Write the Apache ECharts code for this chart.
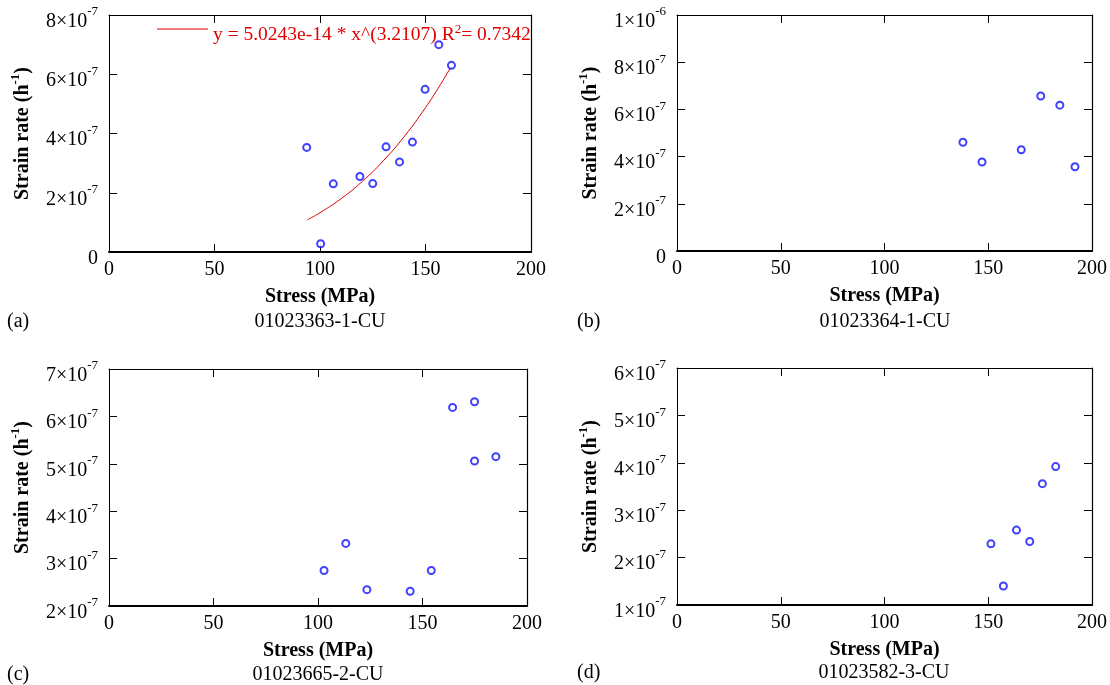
<!DOCTYPE html>
<html><head><meta charset="utf-8">
<script src="https://cdn.jsdelivr.net/npm/echarts@6/dist/echarts.min.js"></script>
<style>html,body{margin:0;padding:0;background:#fff}#c{width:1110px;height:685px}</style>
</head><body><div id="c"></div>
<script>
// Strain rates are stored in units of 1e-7 h^-1
const xTickLabels = ['0', '50', '100', '150', '200'];
const yTicksA = ['0', '2×10^-7', '4×10^-7', '6×10^-7', '8×10^-7'];
const yTicksB = ['0', '2×10^-7', '4×10^-7', '6×10^-7', '8×10^-7', '1×10^-6'];
const yTicksC = ['2×10^-7', '3×10^-7', '4×10^-7', '5×10^-7', '6×10^-7', '7×10^-7'];
const yTicksD = ['1×10^-7', '2×10^-7', '3×10^-7', '4×10^-7', '5×10^-7', '6×10^-7'];

const stressA = [93.7, 100.3, 106.3, 118.9, 125.0, 131.3, 137.7, 143.8, 149.8, 156.3, 162.3];
const rateA   = [3.53, 0.28, 2.30, 2.55, 2.31, 3.55, 3.04, 3.71, 5.49, 7.00, 6.30];
const fitStressA = [94, 100, 110, 120, 130, 140, 150, 156, 162];
const fitRateA   = [1.087, 1.326, 1.800, 2.381, 3.078, 3.905, 4.874, 5.527, 6.239];
const stressB = [137.8, 147.0, 165.9, 175.3, 184.5, 191.8];
const rateB   = [4.61, 3.77, 4.29, 6.57, 6.18, 3.57];
const stressC = [102.9, 113.3, 123.4, 144.1, 154.2, 164.4, 174.9, 174.9, 185.1];
const rateC   = [2.75, 3.32, 2.345, 2.31, 2.75, 6.19, 6.31, 5.06, 5.15];
const stressD = [151.3, 157.3, 163.6, 170.0, 176.1, 182.5];
const rateD   = [2.29, 1.40, 2.58, 2.34, 3.56, 3.92];

const sampleIds = ['01023363-1-CU', '01023364-1-CU', '01023665-2-CU', '01023582-3-CU'];
const panelTags = ['(a)', '(b)', '(c)', '(d)'];
const fitLabel = ['y = 5.0243e-14 * x^(3.2107) R', '2', '= 0.7342'];
const xAxisName = 'Stress (MPa)';
const yAxisName = ['Strain rate (h', '-1', ')'];

const FONT = "'Liberation Serif', 'Times New Roman', serif";
const panels = [
  {grid: {left: 109, top: 15, width: 422, height: 237}, ymin: 0, ymax: 8, yint: 2, ticks: yTicksA, xs: stressA, ys: rateA, cx: 320, tagX: 7, yTitle: 322},
  {grid: {left: 677, top: 15, width: 416, height: 236}, ymin: 0, ymax: 10, yint: 2, ticks: yTicksB, xs: stressB, ys: rateB, cx: 885, tagX: 577, yTitle: 322},
  {grid: {left: 109, top: 369, width: 418, height: 237}, ymin: 2, ymax: 7, yint: 1, ticks: yTicksC, xs: stressC, ys: rateC, cx: 318, tagX: 7, yTitle: 675},
  {grid: {left: 677, top: 368, width: 415, height: 237}, ymin: 1, ymax: 6, yint: 1, ticks: yTicksD, xs: stressD, ys: rateD, cx: 884, tagX: 577, yTitle: 673}
];

function tickRich(lbl) {
  const p = lbl.split('^');
  return p.length > 1 ? '{b|' + p[0] + '}{s|' + p[1] + '}' : '{b|' + p[0] + '}';
}
const yRich = {
  b: {fontFamily: FONT, fontSize: 20, lineHeight: 26, verticalAlign: 'bottom', color: '#000'},
  s: {fontFamily: FONT, fontSize: 13, lineHeight: 12, verticalAlign: 'top', padding: [0, 0, 14, 0], color: '#000'}
};

const grids = [], xAxes = [], yAxes = [], series = [], graphics = [];
panels.forEach((p, i) => {
  grids.push(p.grid);
  const tick = {show: true, inside: true, length: 8, lineStyle: {color: '#000', width: 1}};
  xAxes.push({
    gridIndex: i, type: 'value', position: 'bottom', min: 0, max: 200, interval: 50,
    axisLine: {show: true, onZero: false, lineStyle: {color: '#000', width: 2}},
    axisTick: tick, splitLine: {show: false},
    axisLabel: {margin: 8, fontFamily: FONT, fontSize: 20, color: '#000',
      formatter: (v) => xTickLabels[Math.round(v / 50)]},
    name: xAxisName, nameLocation: 'middle', nameGap: 35,
    nameTextStyle: {fontFamily: FONT, fontSize: 20, fontWeight: 'bold', color: '#000'}
  });
  xAxes.push({
    gridIndex: i, type: 'value', position: 'top', min: 0, max: 200, interval: 50,
    axisLine: {show: true, onZero: false, lineStyle: {color: '#000', width: 1}},
    axisTick: tick, axisLabel: {show: false}, splitLine: {show: false}
  });
  yAxes.push({
    gridIndex: i, type: 'value', position: 'left', min: p.ymin, max: p.ymax, interval: p.yint,
    axisLine: {show: true, onZero: false, lineStyle: {color: '#000', width: 1}},
    axisTick: tick, splitLine: {show: false},
    axisLabel: {margin: 11, padding: [7, 0, 0, 0], rich: yRich,
      formatter: (v) => tickRich(p.ticks[Math.round((v - p.ymin) / p.yint)])},
    name: '{b|' + yAxisName[0] + '}{s|' + yAxisName[1] + '}{b|' + yAxisName[2] + '}',
    nameLocation: 'middle', nameGap: 76, nameRotate: 90,
    nameTextStyle: {rich: {
      b: {fontFamily: FONT, fontSize: 20, fontWeight: 'bold', lineHeight: 24, verticalAlign: 'bottom', color: '#000'},
      s: {fontFamily: FONT, fontSize: 13, fontWeight: 'bold', lineHeight: 12, verticalAlign: 'top', padding: [0, 0, 12, 0], color: '#000'}
    }}
  });
  yAxes.push({
    gridIndex: i, type: 'value', position: 'right', min: p.ymin, max: p.ymax, interval: p.yint,
    axisLine: {show: true, onZero: false, lineStyle: {color: '#000', width: 1.2}},
    axisTick: tick, axisLabel: {show: false}, splitLine: {show: false}
  });
  series.push({
    type: 'scatter', name: 'data' + i, xAxisIndex: 2 * i, yAxisIndex: 2 * i,
    symbol: 'emptyCircle', symbolSize: 7, z: 3,
    itemStyle: {color: '#1010ff', borderWidth: 1},
    data: p.xs.map((x, k) => [x, p.ys[k]])
  });
  graphics.push({type: 'text', x: p.cx, y: p.yTitle, style: {text: sampleIds[i], font: '20px ' + FONT, fill: '#000', textAlign: 'center', textVerticalAlign: 'middle'}});
  graphics.push({type: 'text', x: p.tagX, y: p.yTitle, style: {text: panelTags[i], font: '20px ' + FONT, fill: '#000', textAlign: 'left', textVerticalAlign: 'middle'}});
});
const fitName = fitLabel.join('');
series.push({
  type: 'line', name: fitName, xAxisIndex: 0, yAxisIndex: 0, smooth: true,
  symbol: 'none', showSymbol: false, z: 2,
  lineStyle: {color: '#e00000', width: 1}, itemStyle: {color: '#e00000'},
  data: fitStressA.map((x, k) => [x, fitRateA[k]])
});

const chart = echarts.init(document.getElementById('c'), null, {renderer: 'canvas'});
chart.setOption({
  animation: false,
  backgroundColor: '#fff',
  grid: grids, xAxis: xAxes, yAxis: yAxes, series: series,
  legend: {
    data: [{name: fitName, icon: 'rect'}], left: 152, top: 18, itemWidth: 51, itemHeight: 1.2, selectedMode: false,
    itemStyle: {color: '#e00000'},
    formatter: () => '{t|' + fitLabel[0] + '}{s|' + fitLabel[1] + '}{t|' + fitLabel[2] + '}',
    textStyle: {padding: [10, 0, 0, 0], rich: {
      t: {fontFamily: FONT, fontSize: 19.5, lineHeight: 22, verticalAlign: 'bottom', color: '#e00000'},
      s: {fontFamily: FONT, fontSize: 13, lineHeight: 12, verticalAlign: 'top', padding: [0, 0, 10, 0], color: '#e00000'}
    }}
  },
  graphic: graphics
});
</script>
</body></html>
